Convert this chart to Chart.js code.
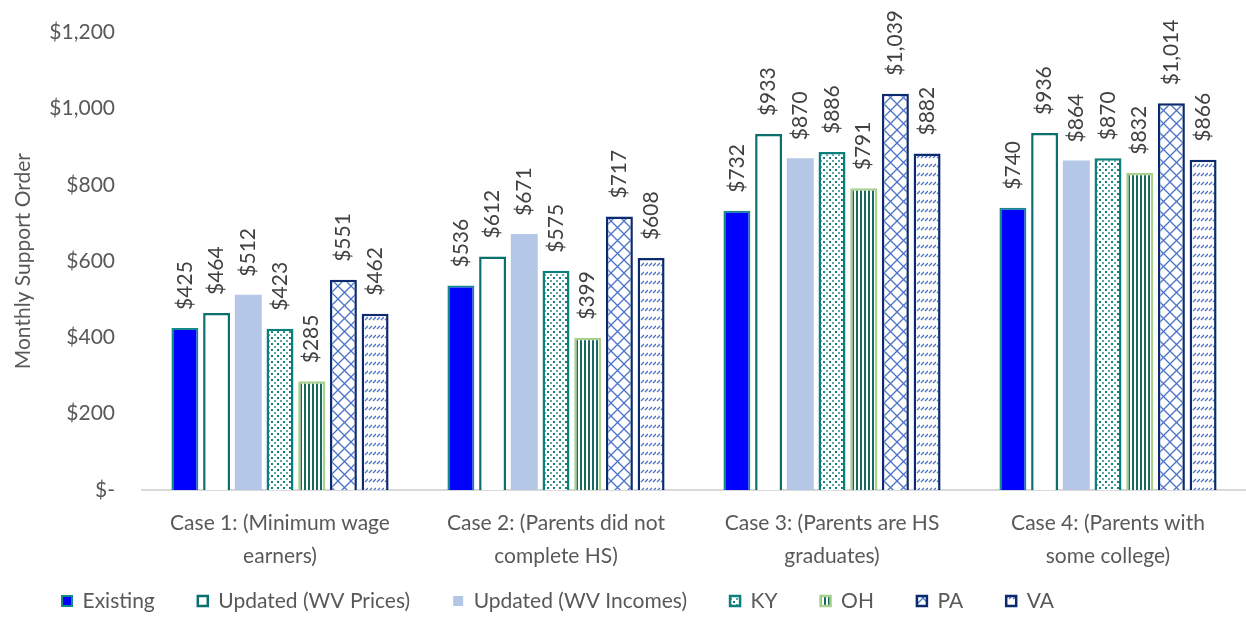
<!DOCTYPE html>
<html>
<head>
<meta charset="utf-8">
<script src="https://cdn.jsdelivr.net/npm/chart.js@4.4.1/dist/chart.umd.min.js"></script>
<style>
  html, body { margin: 0; padding: 0; background: #fff; }
  #wrap { width: 1246px; height: 618px; }
</style>
</head>
<body>
<div id="wrap"><canvas id="c" width="1246" height="618"></canvas></div>
<script>
// case labels (two lines each)
const cases = [
  ['Case 1: (Minimum wage', 'earners)'],
  ['Case 2: (Parents did not', 'complete HS)'],
  ['Case 3: (Parents are HS', 'graduates)'],
  ['Case 4: (Parents with', 'some college)']
];
const existing = [425, 536, 732, 740];
const wvPrices = [464, 612, 933, 936];
const wvIncomes = [512, 671, 870, 864];
const ky = [423, 575, 886, 870];
const oh = [285, 399, 791, 832];
const pa = [551, 717, 1039, 1014];
const va = [462, 608, 882, 866];

const FONT = 'Lato, "Open Sans", sans-serif';
const FS = 21;

// small tiles used as bar fills
function tile(w, h, draw) {
  const cv = document.createElement('canvas');
  cv.width = w; cv.height = h;
  const g = cv.getContext('2d');
  g.fillStyle = '#fff';
  g.fillRect(0, 0, w, h);
  draw(g);
  return document.getElementById('c').getContext('2d').createPattern(cv, 'repeat');
}

const dots = tile(6, 6, g => {
  g.fillStyle = '#12807a';
  g.fillRect(1, 1, 2, 2);
  g.fillStyle = '#5aa9a4';
  g.fillRect(4, 4, 2, 2);
});

const stripes = tile(4, 4, g => {
  g.fillStyle = '#17695c';
  g.fillRect(0, 0, 2, 4);
});

const lattice = tile(13, 13, g => {
  g.strokeStyle = '#4a72c8';
  g.lineWidth = 1.3;
  g.beginPath();
  g.moveTo(0, 0); g.lineTo(13, 13);
  g.moveTo(13, 0); g.lineTo(0, 13);
  g.stroke();
});

const dashes = tile(8, 9, g => {
  g.strokeStyle = '#4a72c8';
  g.lineWidth = 1.3;
  g.beginPath();
  g.moveTo(1, 5); g.lineTo(4, 2);
  g.moveTo(5, 5); g.lineTo(8, 2);
  g.stroke();
});

// value labels written vertically above each bar
const valueLabels = {
  id: 'valueLabels',
  afterDatasetsDraw(chart) {
    const ctx = chart.ctx;
    ctx.save();
    ctx.font = FS + 'px ' + FONT;
    ctx.fillStyle = '#404040';
    ctx.textAlign = 'left';
    ctx.textBaseline = 'middle';
    chart.data.datasets.forEach((ds, i) => {
      chart.getDatasetMeta(i).data.forEach((bar, j) => {
        const txt = '$' + ds.data[j].toLocaleString('en-US');
        ctx.save();
        ctx.translate(bar.x, bar.y - 18);
        ctx.rotate(-Math.PI / 2);
        ctx.fillText(txt, 0, 0);
        ctx.restore();
      });
    });
    ctx.restore();
  }
};

// legend: keep its box short so the two-line case labels have room,
// then shift the row to its final spot
const LEGEND_H = 46;
const legendPlace = {
  id: 'legendPlace',
  afterInit(chart) {
    const lg = chart.legend;
    const fit = lg.fit;
    lg.fit = function () {
      fit.call(this);
      this.height = LEGEND_H;
    };
  },
  afterLayout(chart) {
    const lg = chart.legend;
    const pad = lg.options.labels.padding;
    lg.top = 601 - pad - FS / 2;
    lg.bottom = chart.height;
    lg.left += 12;
    lg.right += 12;
  }
};

function ds(label, data, bg, border, bw) {
  return { label, data, backgroundColor: bg, borderColor: border, borderWidth: bw };
}

new Chart(document.getElementById('c'), {
  type: 'bar',
  data: {
    labels: cases,
    datasets: [
      ds('Existing', existing, '#0000ff', '#138a8a', 2),
      ds('Updated (WV Prices)', wvPrices, '#ffffff', '#0b6f6e', 2.5),
      ds('Updated (WV Incomes)', wvIncomes, '#b4c7e7', '#b4c7e7', 0),
      ds('KY', ky, dots, '#0b7f7c', 2.5),
      ds('OH', oh, stripes, '#a9d18e', 2.5),
      ds('PA', pa, lattice, '#0c2a6e', 2.5),
      ds('VA', va, dashes, '#0c2a6e', 2.5)
    ]
  },
  options: {
    responsive: false,
    animation: false,
    layout: { padding: { left: 7, right: 0, top: 0, bottom: 0 } },
    datasets: { bar: { categoryPercentage: 0.804, barPercentage: 0.85 } },
    scales: {
      x: {
        grid: { display: false, drawTicks: false },
        border: { color: '#d9d9d9', width: 2 },
        ticks: {
          color: '#595959',
          font: { family: FONT, size: FS, lineHeight: 1.55 },
          padding: 17,
          maxRotation: 0,
          autoSkip: false
        },
        afterFit: s => { s.height = 618 - 490 - LEGEND_H; }
      },
      y: {
        min: 0, max: 1200,
        grid: { display: false, drawTicks: false },
        border: { display: false },
        ticks: {
          stepSize: 200,
          color: '#595959',
          font: { family: FONT, size: FS, lineHeight: 0.5 },
          padding: 27,
          callback: v => v === 0 ? '$-' : '$' + v.toLocaleString('en-US')
        },
        title: {
          display: true,
          text: 'Monthly Support Order',
          color: '#595959',
          font: { family: FONT, size: FS }
        },
        afterFit: s => { s.width = 135; }
      }
    },
    plugins: {
      legend: {
        position: 'bottom',
        align: 'start',
        labels: {
          color: '#595959',
          font: { family: FONT, size: FS },
          boxWidth: 10, boxHeight: 10,
          padding: 43
        }
      },
      tooltip: { enabled: false }
    }
  },
  plugins: [valueLabels, legendPlace]
});
</script>
</body>
</html>
